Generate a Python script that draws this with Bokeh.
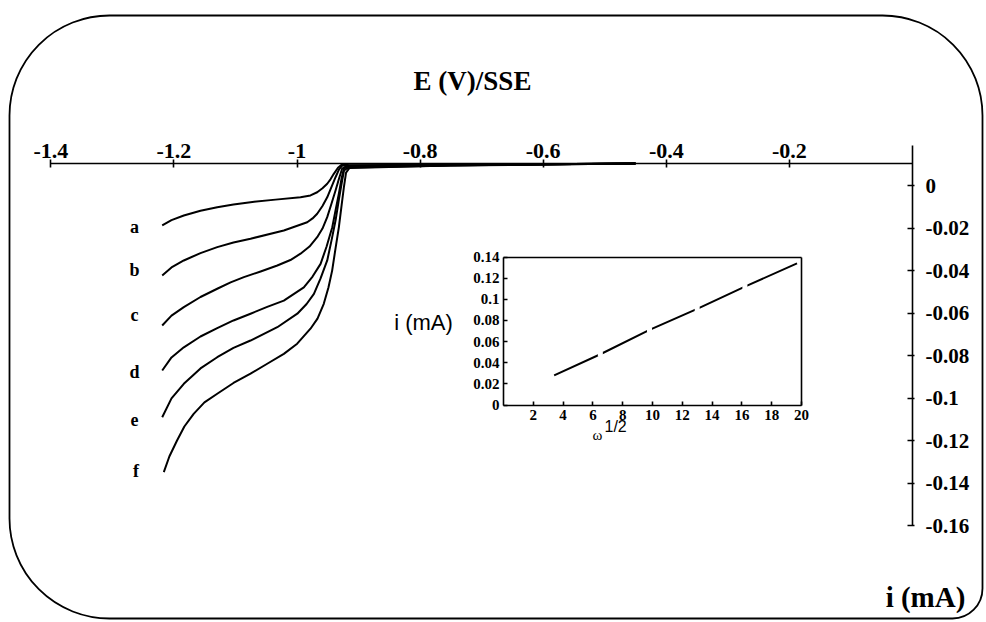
from bokeh.plotting import figure
from bokeh.models import (LinearAxis, FixedTicker, NumeralTickFormatter, Range1d,
                          Label, BoxAnnotation)
from bokeh.core.properties import value
from bokeh.embed import file_html
from bokeh.resources import INLINE

# ---------------- data ----------------
curve_names = ["a", "b", "c", "d", "e", "f"]

E_a = [-1.2190, -1.2039, -1.1839, -1.1568, -1.1296, -1.1032, -1.0755, -1.0349, -0.9943, -0.9781,
       -0.9672, -0.9586, -0.9509, -0.9456, -0.9402, -0.9334, -0.9266, -0.915, -0.85, -0.75, -0.60, -0.45]
i_a = [-0.0293, -0.0268, -0.0246, -0.0224, -0.0207, -0.0194, -0.0183, -0.0171, -0.0160, -0.0151,
       -0.0136, -0.0117, -0.0096, -0.0075, -0.0049, -0.0020, -0.0004, -0.0008, -0.0007, -0.0005, -0.0003, 0.0]

E_b = [-1.2190, -1.2039, -1.1839, -1.1568, -1.1296, -1.1032, -1.0755, -1.0214, -0.9834, -0.9747,
       -0.9672, -0.9586, -0.9509, -0.9439, -0.9374, -0.9317, -0.9266, -0.9195, -0.85, -0.75, -0.60, -0.45]
i_b = [-0.0530, -0.0492, -0.0459, -0.0424, -0.0396, -0.0374, -0.0356, -0.0317, -0.0278, -0.0260,
       -0.0238, -0.0201, -0.0160, -0.0111, -0.0065, -0.0028, -0.0010, -0.0010, -0.0009, -0.0006, -0.0003, 0.0]

E_c = [-1.2190, -1.2039, -1.1839, -1.1568, -1.1296, -1.1079, -1.0863, -1.0591, -1.0320, -1.0107,
       -0.9943, -0.9797, -0.9672, -0.9586, -0.9509, -0.9439, -0.9374, -0.9317, -0.9266, -0.9195,
       -0.85, -0.75, -0.60, -0.45]
i_c = [-0.0767, -0.0720, -0.0680, -0.0632, -0.0593, -0.0563, -0.0538, -0.0511, -0.0483, -0.0457,
       -0.0427, -0.0393, -0.0349, -0.0308, -0.0254, -0.0189, -0.0128, -0.0071, -0.0024, -0.0012,
       -0.0011, -0.0007, -0.0004, 0.0]

E_d = [-1.2190, -1.2039, -1.1839, -1.1568, -1.1296, -1.1032, -1.0755, -1.0484, -1.0214, -0.9889,
       -0.9747, -0.9617, -0.9519, -0.9427, -0.9374, -0.9320, -0.9276, -0.9238, -0.9164,
       -0.85, -0.75, -0.60, -0.45]
i_d = [-0.0980, -0.0918, -0.0870, -0.0819, -0.0779, -0.0743, -0.0711, -0.0679, -0.0649, -0.0586,
       -0.0535, -0.0475, -0.0393, -0.0302, -0.0222, -0.0143, -0.0071, -0.0024, -0.0014,
       -0.0013, -0.0008, -0.0004, 0.0]

E_e = [-1.2190, -1.2039, -1.1839, -1.1568, -1.1296, -1.1032, -1.0755, -1.0320, -0.9995, -0.9844,
       -0.9725, -0.9617, -0.9509, -0.9439, -0.9374, -0.9317, -0.9266, -0.9236, -0.9164,
       -0.85, -0.75, -0.60, -0.45]
i_e = [-0.1201, -0.1112, -0.1043, -0.0970, -0.0917, -0.0873, -0.0838, -0.0775, -0.0711, -0.0665,
       -0.0617, -0.0544, -0.0459, -0.0364, -0.0270, -0.0166, -0.0080, -0.0033, -0.0019,
       -0.0015, -0.0009, -0.0005, 0.0]

E_f = [-1.2164, -1.2074, -1.1949, -1.1830, -1.1679, -1.1504, -1.1296, -1.1032, -1.0755, -1.0484,
       -1.0214, -0.9997, -0.9781, -0.9667, -0.9565, -0.9489, -0.9429, -0.9374, -0.9320, -0.9276,
       -0.9238, -0.9203, -0.9147, -0.85, -0.75, -0.60, -0.45]
i_f = [-0.1461, -0.1387, -0.1311, -0.1245, -0.1185, -0.1131, -0.1090, -0.1039, -0.0995, -0.0948,
       -0.0901, -0.0853, -0.0782, -0.0734, -0.0664, -0.0587, -0.0507, -0.0402, -0.0302, -0.0199,
       -0.0112, -0.0043, -0.0021, -0.0017, -0.0010, -0.0005, 0.0]

curves_E = [E_a, E_b, E_c, E_d, E_e, E_f]
curves_i = [i_a, i_b, i_c, i_d, i_e, i_f]

x_ticks = [-1.4, -1.2, -1.0, -0.8, -0.6, -0.4, -0.2]
y_ticks = [0.0, -0.02, -0.04, -0.06, -0.08, -0.1, -0.12, -0.14, -0.16]

# inset: limiting current vs square root of rotation rate
omega_sqrt = [3.4, 6.5, 9.8, 13.0, 16.2, 19.7]
i_lim = [0.028, 0.048, 0.071, 0.091, 0.112, 0.134]
inset_x_ticks = [2, 4, 6, 8, 10, 12, 14, 16, 18, 20]
inset_y_ticks = [0.0, 0.02, 0.04, 0.06, 0.08, 0.1, 0.12, 0.14]

# ---------------- layout ----------------
W, H = 984, 620
letter_dy_px = [2, -5, -11, 1, 2, -1]  # small vertical nudges of the curve letters


def hrange(v0, px0, px_per_unit):
    return Range1d(v0 - px0 / px_per_unit, v0 + (W - px0) / px_per_unit)


def vrange(v0, py0, px_per_unit):
    return Range1d(v0 - (H - py0) / px_per_unit, v0 + py0 / px_per_unit)


p = figure(width=W, height=H, output_backend="svg", toolbar_location=None,
           x_axis_location=None, y_axis_location=None,
           x_range=hrange(0.0, 912, 615.5), y_range=vrange(0.0, 163, 2112.5),
           min_border=0, outline_line_color=None,
           background_fill_color="white", border_fill_color="white")
p.grid.visible = False
p.extra_x_ranges = {"wx": hrange(0.0, 503, 14.9)}
p.extra_y_ranges = {"wy": vrange(0.0, 404.5, 1057),
                    "ylab": vrange(0.0, 185, 2125)}

SERIF = "Liberation Serif"
SANS = "Liberation Sans"


def style_axis(ax, size):
    ax.axis_line_color = "black"
    ax.axis_line_width = 1.6
    ax.major_tick_line_color = "black"
    ax.major_tick_line_width = 1.6
    ax.minor_tick_in = 0
    ax.minor_tick_out = 0
    ax.major_label_text_font = SERIF
    ax.major_label_text_font_style = "bold"
    ax.major_label_text_font_size = size
    ax.major_label_text_color = "black"


# main x axis along i = 0, labels above
xa = LinearAxis(fixed_location=0, ticker=FixedTicker(ticks=x_ticks),
                formatter=NumeralTickFormatter(format="0.[0]"), bounds=(-1.4, 0.0))
style_axis(xa, "22px")
xa.major_tick_in = 4
xa.major_tick_out = 4
xa.major_label_standoff = 2
p.add_layout(xa, "above")

# current axis on the right, labels right
ya = LinearAxis(y_range_name="ylab", fixed_location=0, ticker=FixedTicker(ticks=y_ticks),
                formatter=NumeralTickFormatter(format="0.[00]"), bounds=(-0.16, 0.019))
style_axis(ya, "21px")
ya.major_tick_in = 5
ya.major_tick_out = 2
ya.major_label_standoff = 11
p.add_layout(ya, "right")

# inset axes
ib = LinearAxis(x_range_name="wx", y_range_name="wy", fixed_location=0,
                ticker=FixedTicker(ticks=inset_x_ticks), bounds=(0, 20))
style_axis(ib, "15px")
ib.major_tick_in = 4
ib.major_tick_out = 0
ib.major_label_standoff = 5
p.add_layout(ib, "below")

il = LinearAxis(x_range_name="wx", y_range_name="wy", fixed_location=0,
                ticker=FixedTicker(ticks=inset_y_ticks),
                formatter=NumeralTickFormatter(format="0.[00]"), bounds=(0, 0.14))
style_axis(il, "15px")
il.major_tick_in = 4
il.major_tick_out = 0
il.major_label_standoff = 4
p.add_layout(il, "left")

it = LinearAxis(x_range_name="wx", y_range_name="wy", fixed_location=0.14,
                ticker=FixedTicker(ticks=[]), bounds=(0, 20))
style_axis(it, "13px")
it.major_tick_in = 0
it.major_tick_out = 0
p.add_layout(it, "above")

ir = LinearAxis(x_range_name="wx", y_range_name="wy", fixed_location=20,
                ticker=FixedTicker(ticks=[]), bounds=(0, 0.14))
style_axis(ir, "13px")
ir.major_tick_in = 0
ir.major_tick_out = 0
p.add_layout(ir, "right")

# curves
for E, cur in zip(curves_E, curves_i):
    p.line(E, cur, line_color="black", line_width=2, line_join="round")

# curve letters
p.text(x=[E[0] - 0.045 for E in curves_E], y=[c[0] for c in curves_i], text=curve_names,
       y_offset=letter_dy_px,
       text_font=value(SERIF), text_font_style="bold", text_font_size="18px",
       text_align="center", text_baseline="middle", text_color="black")

# inset line with small breaks at the measured points
p.line(omega_sqrt, i_lim, x_range_name="wx", y_range_name="wy", line_color="black", line_width=2)
p.scatter(omega_sqrt[1:-1], i_lim[1:-1], x_range_name="wx", y_range_name="wy",
          marker="square", size=5, fill_color="white", line_color=None)


def lab(text, px, py, font, size, style="bold", align="center"):
    p.add_layout(Label(x=px, y=H - py, x_units="screen", y_units="screen",
                       text=text, text_font=font, text_font_size=size,
                       text_font_style=style, text_align=align,
                       text_baseline="middle", text_color="black"))


lab("E (V)/SSE", 472, 80, SERIF, "27px")
lab("i (mA)", 925, 596, SERIF, "29px")
lab("i (mA)", 423, 322, SANS, "22px", style="normal")
lab("ω", 597, 434, SERIF, "15px", style="normal")
lab("1/2", 604, 426, SANS, "16px", style="normal", align="left")

# rounded outer frame
p.add_layout(BoxAnnotation(left=9, right=982, top=H - 15, bottom=2,
                           left_units="screen", right_units="screen",
                           top_units="screen", bottom_units="screen",
                           fill_alpha=0, line_color="black", line_alpha=1.0,
                           line_width=1.8, border_radius=(100, 100, 30, 100)))

open("out.html", "w").write(file_html(p, INLINE))
